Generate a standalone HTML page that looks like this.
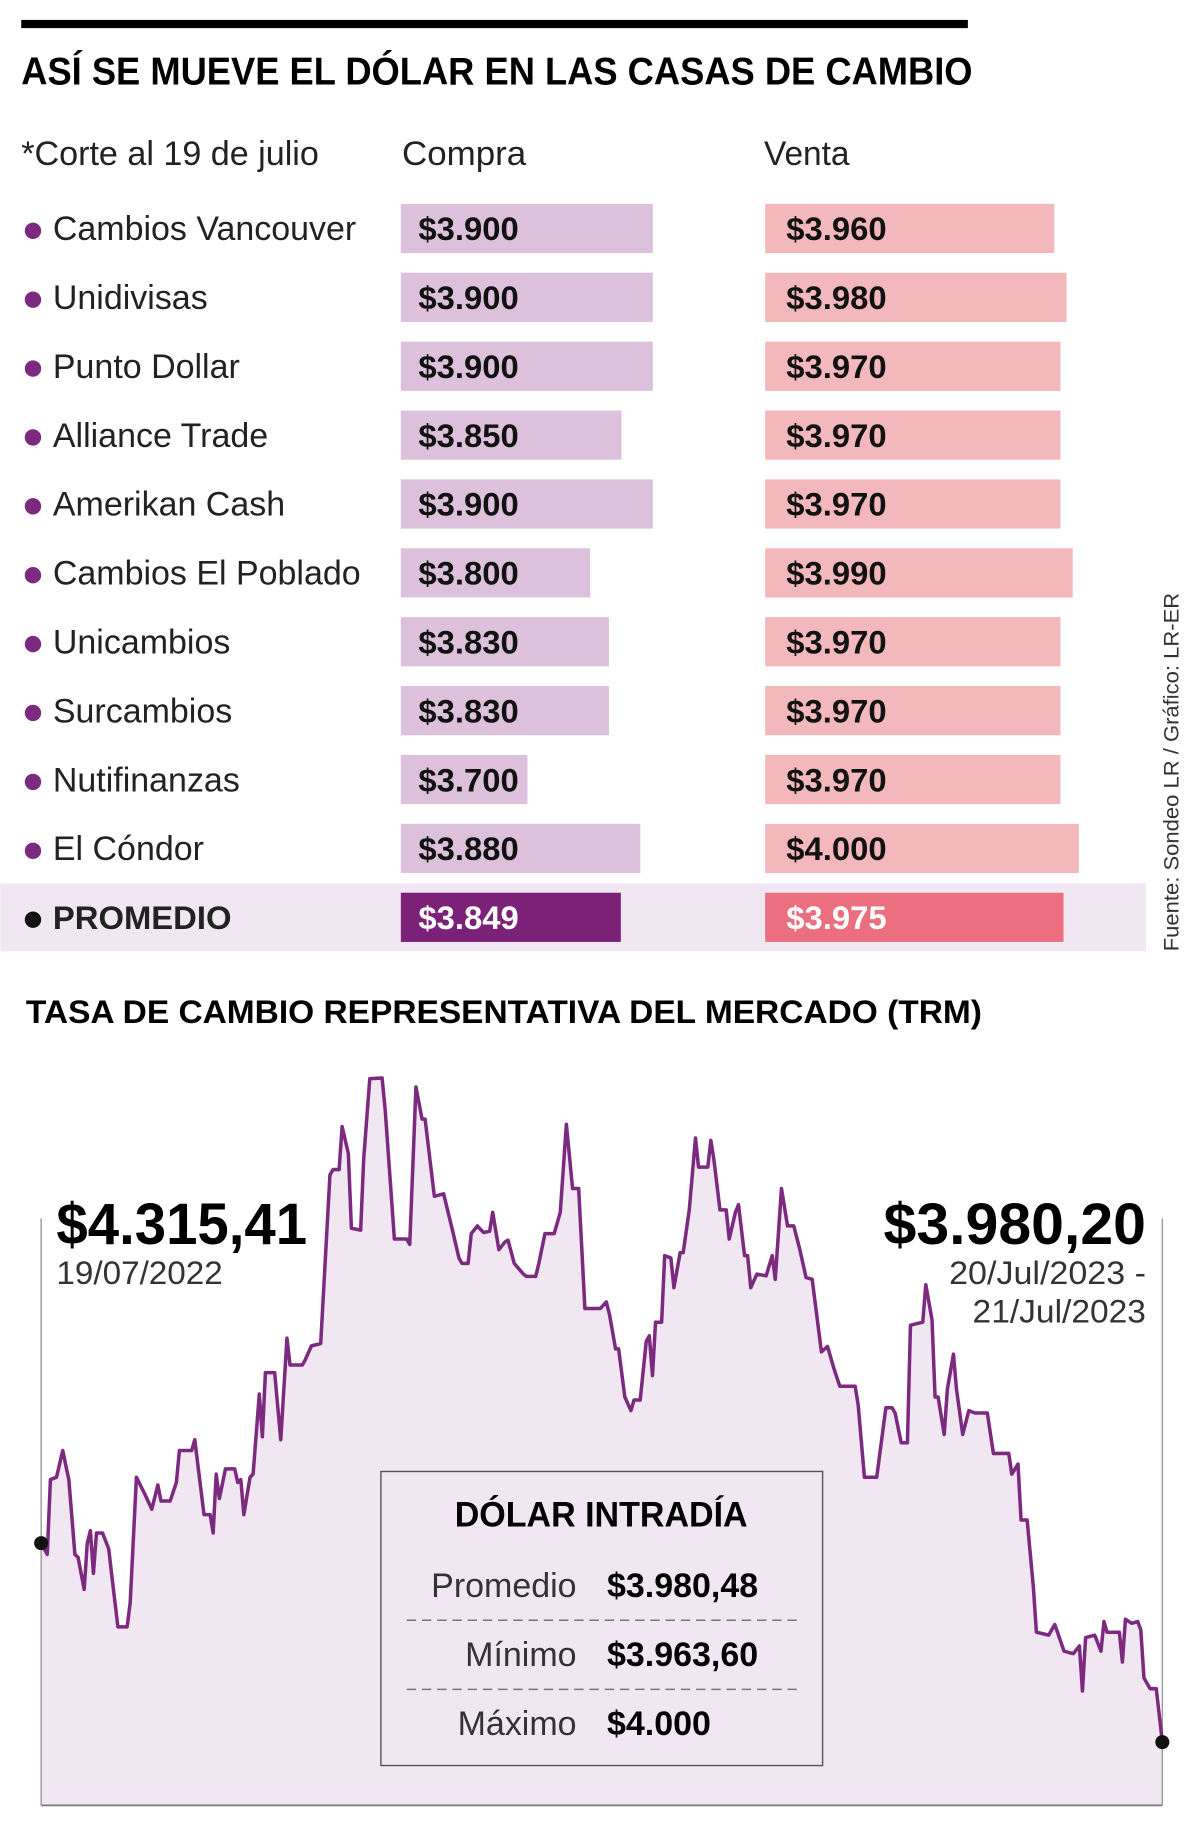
<!DOCTYPE html>
<html><head><meta charset="utf-8"><style>
html,body{margin:0;padding:0;background:#fff;}
svg{display:block;font-family:"Liberation Sans Narrow","Liberation Sans",sans-serif;}
</style></head><body>
<svg id="root" width="1200" height="1837" viewBox="0 0 1024 1568">
<rect x="18" y="17" width="808" height="7" fill="#000"/>
<text x="18" y="72" font-size="33" font-weight="bold" textLength="812" lengthAdjust="spacingAndGlyphs">ASÍ SE MUEVE EL DÓLAR EN LAS CASAS DE CAMBIO</text>
<text x="18" y="141" font-size="29" fill="#222" textLength="254" lengthAdjust="spacingAndGlyphs">*Corte al 19 de julio</text>
<text x="343" y="141" font-size="29" fill="#222" textLength="106" lengthAdjust="spacingAndGlyphs">Compra</text>
<text x="652" y="141" font-size="29" fill="#222" textLength="73" lengthAdjust="spacingAndGlyphs">Venta</text>
<g id="rows"></g>
<text transform="translate(1006,812) rotate(-90)" font-size="18" fill="#333" textLength="306" lengthAdjust="spacingAndGlyphs">Fuente: Sondeo LR / Gráfico: LR-ER</text>
<text x="22" y="873" font-size="28" font-weight="bold" textLength="816" lengthAdjust="spacingAndGlyphs">TASA DE CAMBIO REPRESENTATIVA DEL MERCADO (TRM)</text>
<g id="chart"></g>
</svg>
<script>
const NS='http://www.w3.org/2000/svg';
const houses=['Cambios Vancouver','Unidivisas','Punto Dollar','Alliance Trade','Amerikan Cash','Cambios El Poblado','Unicambios','Surcambios','Nutifinanzas','El Cóndor'];
const compra=[3900,3900,3900,3850,3900,3800,3830,3830,3700,3880];
const venta=[3960,3980,3970,3970,3970,3990,3970,3970,3970,4000];
const avgCompra=3849, avgVenta=3975;
const trmDays=[0,2,3,5,7,9,11,12,14,15,16,17,18,20,22,23,25,28,29,31,34,36,38,39,42,44,45,49,50,53,55,56,57,58,60,63,64,65,66,68,69,71,72,73,76,78,80,81,85,86,88,91,94,95,97,98,100,101,104,105,107,111,112,115,119,120,122,124,125,128,131,134,136,137,139,140,142,144,146,147,149,151,152,154,157,158,161,162,164,167,169,171,173,175,177,182,184,185,187,188,190,192,193,195,197,198,199,200,202,203,205,206,208,209,211,213,214,217,218,219,221,223,224,226,227,229,230,231,233,236,238,239,241,243,245,247,249,251,254,256,258,260,265,266,268,272,275,277,278,280,282,283,287,288,290,291,292,294,295,297,298,300,302,304,305,308,310,312,315,316,318,319,321,323,324,328,330,333,336,338,339,340,343,345,346,347,351,352,353,355,357,358,359,361,363,365];
const trmValues=[4315,4296,4422,4426,4471,4422,4296,4291,4237,4314,4336,4264,4332,4332,4305,4260,4174,4174,4215,4426,4395,4372,4413,4386,4386,4417,4471,4471,4489,4363,4363,4332,4431,4390,4440,4440,4417,4422,4363,4426,4431,4566,4494,4602,4602,4489,4660,4615,4615,4624,4647,4651,4935,4944,4944,5016,4971,4845,4842,4962,5097,5098,5043,4827,4827,4818,5083,5029,5029,4899,4903,4840,4795,4786,4786,4836,4849,4838,4840,4872,4809,4822,4825,4786,4768,4764,4764,4786,4836,4836,4872,5020,4912,4912,4710,4710,4721,4700,4642,4642,4561,4538,4556,4556,4655,4664,4597,4687,4687,4799,4795,4745,4804,4804,4876,4997,4948,4948,4993,4961,4876,4876,4827,4872,4885,4799,4799,4745,4768,4765,4799,4759,4912,4849,4849,4809,4762,4759,4637,4646,4610,4579,4579,4547,4426,4426,4543,4543,4534,4484,4484,4682,4687,4750,4691,4561,4561,4498,4574,4633,4574,4498,4538,4534,4534,4534,4466,4466,4466,4431,4448,4354,4354,4241,4165,4160,4178,4133,4129,4142,4066,4156,4160,4133,4183,4165,4165,4115,4187,4180,4183,4169,4088,4070,4070,3980];
const intraLabels=['Promedio','Mínimo','Máximo'];
const intraValues=['$3.980,48','$3.963,60','$4.000'];

function el(tag,attrs,parent,text){const e=document.createElementNS(NS,tag);for(const k in attrs)e.setAttribute(k,attrs[k]);if(text!==undefined)e.textContent=text;parent.appendChild(e);return e;}
function fmt(v){return '$'+String(v).replace(/(\d)(\d{3})$/,'$1.$2');}
const cx=v=>(v-3498)*0.535, vx=v=>(v-3490)*0.525;
const rows=document.getElementById('rows');
function row(i,name,c,v,avg){
  const y=195+i*58.8;
  if(avg){const b=el('rect',{x:0,y:y-29,width:978,height:58,fill:'#f1e7f3'},rows);
    
    }
  const d=el('circle',{cx:28,cy:y+2,r:7,fill:avg?'#111':'#7b2a7f'},rows);
  
  
  const t=el('text',{x:45,y:y+10,'font-size':avg?28:29,'font-weight':avg?'bold':'normal',fill:'#222'},rows,name);
  
  
  const r1=el('rect',{x:342,y:y-21,width:cx(c),height:42,fill:avg?'#7b2278':'#dcc0dc'},rows);
  
  
  const t1=el('text',{x:357,y:y+10,'font-size':28,'font-weight':'bold',fill:avg?'#fff':'#111'},rows,fmt(c));
  
  
  const r2=el('rect',{x:653,y:y-21,width:vx(v),height:42,fill:avg?'#ec6f7f':'#f2b8bb'},rows);
  
  
  const t2=el('text',{x:671,y:y+10,'font-size':28,'font-weight':'bold',fill:avg?'#fff':'#111'},rows,fmt(v));
  
  
}
houses.forEach((h,i)=>row(i,h,compra[i],venta[i],false));
row(10,'PROMEDIO',avgCompra,avgVenta,true);

const ch=document.getElementById('chart');
const X=d=>35+d/365*957, Y=v=>1487-(v-3980)*0.507;
const pts=trmDays.map((d,i)=>X(d).toFixed(1)+','+Y(trmValues[i]).toFixed(1)).join(' ');
const area=el('polygon',{points:'35,1541 '+pts+' 992,1541',fill:'#f1e7f3'},ch);


const gl=el('line',{x1:35,y1:1040,x2:35,y2:1541,stroke:'#999','stroke-width':1.2},ch);


const gr=el('line',{x1:992,y1:1040,x2:992,y2:1541,stroke:'#999','stroke-width':1.2},ch);


const ax=el('line',{x1:35,y1:1541,x2:992,y2:1541,stroke:'#777','stroke-width':1.5},ch);


const ln=el('polyline',{points:pts,fill:'none',stroke:'#7b2a7f','stroke-width':3,'stroke-linejoin':'round'},ch);


const n=trmDays.length-1;
const d1=el('circle',{cx:X(trmDays[0]),cy:Y(trmValues[0]),r:6,fill:'#111'},ch);


const d2=el('circle',{cx:X(trmDays[n]),cy:Y(trmValues[n]),r:6,fill:'#111'},ch);


const a1=el('text',{x:48,y:1062,'font-size':50,'font-weight':'bold',textLength:214,lengthAdjust:'spacingAndGlyphs'},ch,'$4.315,41');


const a2=el('text',{x:48,y:1096,'font-size':28,fill:'#333',textLength:142,lengthAdjust:'spacingAndGlyphs'},ch,'19/07/2022');


const b1=el('text',{x:978,y:1062,'font-size':50,'font-weight':'bold','text-anchor':'end',textLength:224,lengthAdjust:'spacingAndGlyphs'},ch,'$3.980,20');


const b2=el('text',{x:978,y:1096,'font-size':28,fill:'#333','text-anchor':'end',textLength:168,lengthAdjust:'spacingAndGlyphs'},ch,'20/Jul/2023 -');


const b3=el('text',{x:978,y:1129,'font-size':28,fill:'#333','text-anchor':'end',textLength:148,lengthAdjust:'spacingAndGlyphs'},ch,'21/Jul/2023');


const box=el('rect',{x:325,y:1256,width:377,height:251,fill:'#f1e7f3',stroke:'#555','stroke-width':1.2},ch);


const bt=el('text',{x:513,y:1303,'font-size':30,'font-weight':'bold','text-anchor':'middle',textLength:250,lengthAdjust:'spacingAndGlyphs'},ch,'DÓLAR INTRADÍA');


intraLabels.forEach((l,i)=>{
  const y=1363+i*59;
  const tl=el('text',{x:492,y:y,'font-size':29,fill:'#333','text-anchor':'end'},ch,l);
  
  
  const tv=el('text',{x:518,y:y,'font-size':29,'font-weight':'bold'},ch,intraValues[i]);
  
  
  if(i<2){const dl=el('line',{x1:347,y1:y+20,x2:680,y2:y+20,stroke:'#777','stroke-width':1.2,'stroke-dasharray':'8,5'},ch);
    
    }
});
</script>
</body></html>
